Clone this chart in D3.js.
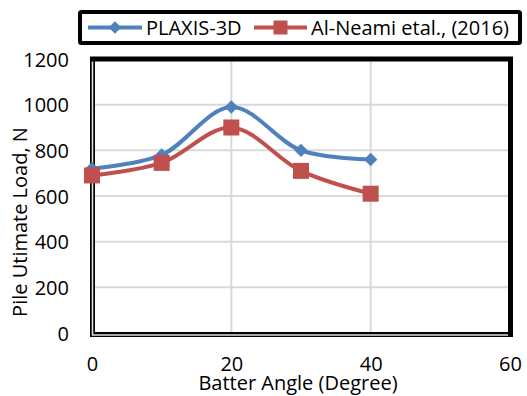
<!DOCTYPE html>
<html>
<head>
<meta charset="utf-8">
<script src="https://cdn.jsdelivr.net/npm/d3@7"></script>
<style>
  html, body { margin: 0; padding: 0; background: #fff; }
  svg { display: block; }
  text { font-family: "Open Sans", "DejaVu Sans", sans-serif; fill: #000; }
</style>
</head>
<body>
<svg id="chart" width="527" height="396"></svg>
<script>
// Batter angle (degrees) and ultimate pile load (N)
const batterAngles = [0, 10, 20, 30, 40];
const plaxisLoads  = [720, 780, 990, 800, 760];
const alNeamiLoads = [690, 745, 900, 710, 610];

const xTicks = [0, 20, 40, 60];
const yTicks = [0, 200, 400, 600, 800, 1000, 1200];

const seriesNames = ["PLAXIS-3D", "Al-Neami etal., (2016)"];
const seriesColors = ["#4F81BD", "#C0504D"];

const svg = d3.select("#chart");

const x = d3.scaleLinear().domain([0, 60]).range([92, 510]);
const y = d3.scaleLinear().domain([0, 1200]).range([333, 59]);

// gridlines
const grid = svg.append("g");
grid.selectAll("line.h").data(yTicks.slice(1, -1)).join("line")
  .attr("x1", x(0)).attr("x2", x(60))
  .attr("y1", d => y(d)).attr("y2", d => y(d))
  .attr("stroke", "#D9D9D9").attr("stroke-width", 2);
grid.selectAll("line.v").data(xTicks.slice(1, -1)).join("line")
  .attr("x1", d => x(d)).attr("x2", d => x(d))
  .attr("y1", y(1200)).attr("y2", y(0))
  .attr("stroke", "#D9D9D9").attr("stroke-width", 2);

// plot frame: heavy black border with a double line on the left and bottom
svg.append("rect")
  .attr("x", x(0) + 0.5).attr("y", y(1200))
  .attr("width", x(60) - x(0)).attr("height", y(0) - y(1200) + 1.5)
  .attr("fill", "none").attr("stroke", "#000").attr("stroke-width", 5);
svg.append("path")
  .attr("d", `M${x(0) + 0.5},${y(1200) + 2.5} V${y(0) + 2} H${x(60) - 2}`)
  .attr("fill", "none").attr("stroke", "#E0E0E0").attr("stroke-width", 1.6);

// axes labels
const fmt = d3.format("d");
const yAxis = d3.axisLeft(y).tickValues(yTicks).tickFormat(fmt).tickSize(0).tickPadding(0);
svg.append("g").attr("transform", "translate(69,0)").call(yAxis)
  .call(g => g.select(".domain").remove())
  .selectAll("text").attr("font-size", 20).attr("dy", "0.36em")
  .style("font-family", "'Open Sans', sans-serif").attr("fill", "#000");

const xAxis = d3.axisBottom(x).tickValues(xTicks).tickFormat(fmt).tickSize(0).tickPadding(0);
svg.append("g").attr("transform", "translate(0,357)").call(xAxis)
  .call(g => g.select(".domain").remove())
  .selectAll("text").attr("font-size", 20).attr("dy", "0.71em")
  .style("font-family", "'Open Sans', sans-serif").attr("fill", "#000");

svg.append("text")
  .attr("x", 298).attr("y", 390)
  .attr("text-anchor", "middle").attr("font-size", 20)
  .text("Batter Angle (Degree)");

svg.append("text")
  .attr("transform", "translate(27,222) rotate(-90)")
  .attr("text-anchor", "middle").attr("font-size", 20)
  .text("Pile Utimate Load, N");

// series lines (smoothed)
const line = d3.line()
  .x(d => x(d[0])).y(d => y(d[1]))
  .curve(d3.curveCatmullRom.alpha(0.5));

const series = [
  batterAngles.map((a, i) => [a, plaxisLoads[i]]),
  batterAngles.map((a, i) => [a, alNeamiLoads[i]])
];

series.forEach((pts, k) => {
  svg.append("path").datum(pts)
    .attr("d", line)
    .attr("fill", "none")
    .attr("stroke", seriesColors[k])
    .attr("stroke-width", 4)
    .attr("stroke-linejoin", "round");
});

// markers: diamonds for PLAXIS-3D, squares for Al-Neami
svg.append("g").selectAll("path").data(series[0]).join("path")
  .attr("transform", d => `translate(${x(d[0])},${y(d[1])}) rotate(45)`)
  .attr("d", d3.symbol().type(d3.symbolSquare).size(90))
  .attr("fill", seriesColors[0]);

svg.append("g").selectAll("rect").data(series[1]).join("rect")
  .attr("x", d => x(d[0]) - 8).attr("y", d => y(d[1]) - 8)
  .attr("width", 16).attr("height", 16)
  .attr("fill", seriesColors[1]);

// legend
const legend = svg.append("g");
legend.append("rect")
  .attr("x", 80).attr("y", 12).attr("width", 440).attr("height", 31)
  .attr("fill", "#fff").attr("stroke", "#000").attr("stroke-width", 4).attr("rx", 1.5);

const legendItems = [
  { x0: 88, x1: 142, tx: 146 },
  { x0: 254, x1: 307, tx: 311 }
];
legendItems.forEach((it, k) => {
  const cy = 27.5;
  legend.append("line")
    .attr("x1", it.x0).attr("x2", it.x1).attr("y1", cy).attr("y2", cy)
    .attr("stroke", seriesColors[k]).attr("stroke-width", 4);
  const cx = (it.x0 + it.x1) / 2;
  if (k === 0) {
    legend.append("path")
      .attr("transform", `translate(${cx},${cy}) rotate(45)`)
      .attr("d", d3.symbol().type(d3.symbolSquare).size(80))
      .attr("fill", seriesColors[k]);
  } else {
    legend.append("rect")
      .attr("x", cx - 7).attr("y", cy - 7).attr("width", 14).attr("height", 14)
      .attr("fill", seriesColors[k]);
  }
  legend.append("text")
    .attr("x", it.tx).attr("y", cy).attr("dy", "0.36em")
    .attr("font-size", 20)
    .text(seriesNames[k]);
});
</script>
</body>
</html>
